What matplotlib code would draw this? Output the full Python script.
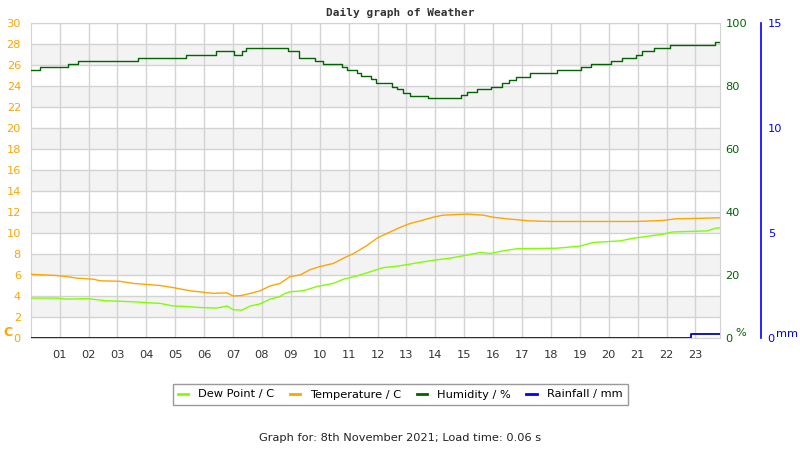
import numpy as np
import matplotlib
matplotlib.use('Agg')
import matplotlib.pyplot as plt
from matplotlib.lines import Line2D

# hours of day and readings
temp_hours = [0.0, 0.9, 1.25, 1.59, 2.17, 2.4, 3.09, 3.55, 4.47, 4.93, 5.51, 6.31, 6.79,
              7.0, 7.3, 7.6, 7.94, 8.28, 8.63, 8.97, 9.32, 9.66, 10.0, 10.47, 10.82,
              11.17, 11.63, 11.98, 12.32, 12.71, 13.12, 13.47, 13.92, 14.27, 15.1,
              15.66, 16.0, 16.48, 17.28, 18.0, 19.0, 20.0, 21.0, 21.9, 22.3, 23.2, 23.85]
temperature = [6.07, 5.95, 5.85, 5.7, 5.6, 5.45, 5.4, 5.2, 5.0, 4.8, 4.5, 4.25, 4.3,
               4.0, 4.05, 4.25, 4.5, 4.95, 5.2, 5.85, 6.0, 6.5, 6.8, 7.1, 7.6,
               8.05, 8.8, 9.5, 9.95, 10.45, 10.9, 11.15, 11.5, 11.7, 11.8,
               11.7, 11.5, 11.35, 11.15, 11.1, 11.1, 11.1, 11.1, 11.2, 11.35, 11.4, 11.45]

dew_hours = [0.0, 0.92, 1.24, 1.94, 2.6, 3.55, 4.13, 4.47, 4.93, 5.4, 5.86, 6.44, 6.8,
             7.0, 7.3, 7.6, 7.94, 8.28, 8.63, 8.8, 8.97, 9.43, 9.9, 10.47, 10.82,
             11.28, 11.74, 12.2, 12.71, 13.36, 13.92, 14.5, 15.1, 15.55, 15.89, 16.35,
             16.82, 18.2, 19.0, 19.46, 20.4, 20.85, 21.9, 22.2, 23.4, 23.68, 23.85]
dew_point = [3.8, 3.8, 3.7, 3.75, 3.55, 3.45, 3.35, 3.3, 3.05, 3.0, 2.9, 2.85, 3.05,
             2.7, 2.65, 3.05, 3.25, 3.7, 3.95, 4.25, 4.4, 4.5, 4.9, 5.2, 5.6,
             5.9, 6.3, 6.7, 6.85, 7.15, 7.4, 7.6, 7.9, 8.15, 8.05, 8.3,
             8.5, 8.55, 8.75, 9.1, 9.25, 9.5, 9.9, 10.1, 10.2, 10.45, 10.5]

hum_hours = [0.0, 0.32, 1.29, 1.64, 3.71, 5.37, 6.40, 7.03, 7.32, 7.44, 8.89, 9.27,
             9.84, 10.12, 10.76, 10.93, 11.28, 11.43, 11.78, 11.94, 12.49, 12.67,
             12.88, 13.12, 13.75, 14.89, 15.10, 15.44, 15.92, 16.31, 16.55, 16.80,
             17.28, 18.20, 19.03, 19.39, 20.08, 20.45, 20.93, 21.14, 21.58, 22.12,
             23.68, 23.85]
humidity = [85.0, 85.9, 86.9, 87.8, 88.8, 90.0, 91.1, 90.0, 91.1, 92.0, 91.1, 89.0,
            87.9, 86.9, 86.0, 85.1, 84.2, 83.3, 82.1, 80.9, 79.8, 78.9,
            77.9, 76.9, 76.1, 77.0, 78.0, 79.0, 79.8, 80.8, 81.9, 83.0,
            84.0, 85.0, 85.9, 86.9, 87.8, 88.8, 89.8, 91.0, 92.0, 92.9,
            93.9, 93.9]

rain_hours = [0.0, 22.83, 23.85]
rainfall = [0.0, 0.2, 0.2]

hour_ticks = list(range(1, 24))
hour_labels = ['%02d' % h for h in hour_ticks]

W, H = 800, 450
fig = plt.figure(figsize=(8, 4.5), dpi=100)
x0, x1, y0, y1 = 30.7, 720, 23, 338
ax = fig.add_axes([x0 / W, 1 - y1 / H, (x1 - x0) / W, (y1 - y0) / H])

ax.set_xlim(0, 23.85)
ax.set_ylim(0, 30)
for b in range(2, 30, 4):
    ax.axhspan(b, b + 2, color='#f3f3f3', zorder=0, lw=0)
ax.set_axisbelow(True)
ax.grid(True, color='#d3d3d3', lw=1)
for s in ax.spines.values():
    s.set_color('#d3d3d3')
ax.set_xticks(hour_ticks)
ax.set_xticklabels(hour_labels)
ax.set_yticks(range(0, 31, 2))
ax.tick_params(axis='x', length=0, pad=9, labelsize=8.2, labelcolor='#333333')
ax.tick_params(axis='y', length=0, pad=7, labelsize=8.2, labelcolor='#ffa500')

ax.plot(dew_hours, dew_point, color='#7fff00', lw=1.0, zorder=3)
ax.plot(temp_hours, temperature, color='#ffa500', lw=1.0, zorder=3)

axh = ax.twinx()
axh.set_ylim(0, 100)
axh.set_yticks(range(0, 101, 20))
axh.tick_params(axis='y', length=0, pad=4, labelsize=8.2, labelcolor='#006400')
for s in axh.spines.values():
    s.set_visible(False)
axh.step(hum_hours, humidity, where='post', color='#006400', lw=1.0)

axr = ax.twinx()
axr.set_ylim(0, 15)
axr.set_yticks([0, 5, 10, 15])
for k in ['top', 'bottom', 'left']:
    axr.spines[k].set_visible(False)
axr.spines['right'].set_position(('axes', (760.7 - x0) / (x1 - x0)))
axr.spines['right'].set_color('#0000ff')
axr.spines['right'].set_linewidth(1.2)
axr.tick_params(axis='y', length=0, pad=5, labelsize=8.2, labelcolor='#0000ff')
axr.step(rain_hours, rainfall, where='post', color='#0000cc', lw=1.3)

fig.text(3 / W, 1 - 333 / H, 'C', color='#ffa500', fontsize=9, fontweight='bold', va='center')
fig.text(735 / W, 1 - 333 / H, '%', color='#006400', fontsize=8.2, va='center')
fig.text(776 / W, 1 - 334 / H, 'mm', color='#0000ff', fontsize=8.2, va='center')

fig.text(0.5, 1 - 13 / H, 'Daily graph of Weather', ha='center', va='center',
         family='DejaVu Sans Mono', fontweight='bold', fontsize=8, color='#333333')

handles = [Line2D([], [], color='#7fff00', lw=2),
           Line2D([], [], color='#ffa500', lw=2),
           Line2D([], [], color='#006400', lw=2),
           Line2D([], [], color='#0000ff', lw=2)]
labels = ['Dew Point / C', 'Temperature / C', 'Humidity / %', 'Rainfall / mm']
leg = fig.legend(handles, labels, loc='center', bbox_to_anchor=(0.5, 1 - 394.5 / H),
                 ncol=4, fontsize=8.2, fancybox=False, handlelength=0.9,
                 columnspacing=1.35, handletextpad=0.9, borderpad=0.45)
leg.get_frame().set_edgecolor('#808080')
leg.get_frame().set_linewidth(1.0)

fig.text(0.5, 1 - 438 / H, 'Graph for: 8th November 2021; Load time: 0.06 s',
         ha='center', va='center', fontsize=8.2, color='#222222')

fig.savefig('out.png', dpi=100)
